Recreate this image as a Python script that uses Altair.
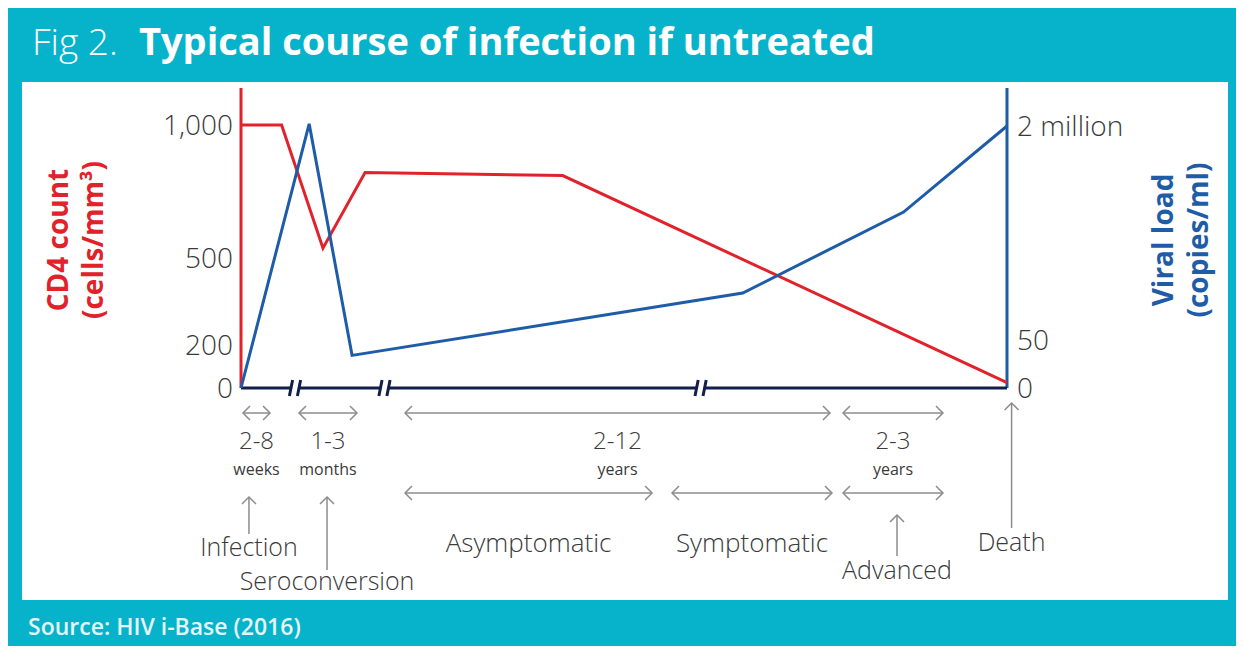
import altair as alt
import pandas as pd

# ---------------- data (schematic time units: infection = 0, death = 100) -------------
red_t = [0, 5.3, 10.7, 16.2, 42.0, 100]
red_cd4 = [1000, 1000, 537, 821, 810, 25]
blue_t = [0, 8.9, 14.5, 65.5, 86.5, 100]
blue_vl = [0, 2020000, 34, 439000, 1196000, 2000000]

cd4_ticks = [0, 200, 500, 1000]
cd4_labels = ["0", "200", "500", "1,000"]
vl_ticks = [0, 50, 2000000]
vl_labels = ["0", "50", "2 million"]

axis_breaks = [7.05, 18.73, 60.0]

dur_num = ["2-8", "1-3", "2-12", "2-3"]
dur_unit = ["weeks", "months", "years", "years"]
dur_start = [0.26, 7.57, 21.41, 78.59]
dur_end = [3.79, 15.14, 76.89, 91.64]

stage_names = ["Asymptomatic", "Symptomatic", "Advanced"]
stage_start = [21.41, 56.27, 78.59]
stage_end = [53.66, 77.15, 91.64]

event_names = ["Infection", "Seroconversion", "Advanced", "Death"]
event_t = [1.04, 11.23, 85.64, 100.6]

# ---------------- layout / style ----------------
W, H = 1206, 518
PX_PER_U = 7.66
U0 = 219
BASE_Y = 306
TEAL = "#06b3cb"
RED = "#e1222b"
BLUE = "#1f5ca8"
NAVY = "#121f4b"
GREY = "#8c8c8c"
TXT = "#3a3a3a"
FONT = "Open Sans"
CHEVRON = "M-1,-1L0,0L-1,1"

# event arrow layout: (top, bottom, label y) in view pixels
EVENT_LAYOUT = {
    "Infection": (415, 452, 466),
    "Seroconversion": (415, 488, 500),
    "Advanced": (433, 474, 489),
    "Death": (321, 446, 461),
}

xs = alt.Scale(domain=[-U0 / PX_PER_U, (W - U0) / PX_PER_U], nice=False, zero=False)
cd4_scale = alt.Scale(domain=cd4_ticks, range=[306, 263, 176, 43], nice=False, zero=False)
vl_scale = alt.Scale(domain=vl_ticks, range=[306, 258, 44], nice=False, zero=False)


def X(field="t"):
    return alt.X(f"{field}:Q", scale=xs, axis=None)


layers = []

# axis lines
layers.append(
    alt.Chart(pd.DataFrame({"t": [0]})).mark_rule(color=RED, strokeWidth=3)
    .encode(x=X(), y=alt.value(6), y2=alt.value(BASE_Y))
)
layers.append(
    alt.Chart(pd.DataFrame({"t": [100]})).mark_rule(color=BLUE, strokeWidth=3)
    .encode(x=X(), y=alt.value(6), y2=alt.value(BASE_Y))
)

# baseline with breaks
gap = 4 / PX_PER_U
edges = [0]
for b in axis_breaks:
    edges += [b - gap, b + gap]
edges.append(100)
seg_df = pd.DataFrame({"t": edges[0::2], "t2": edges[1::2]})
layers.append(
    alt.Chart(seg_df).mark_rule(color=NAVY, strokeWidth=3)
    .encode(x=X(), x2="t2:Q", y=alt.value(BASE_Y))
)
slant = 1.6 / PX_PER_U
bars = []
for b in axis_breaks:
    for c in (b - gap, b + gap):
        bars.append((c - slant, c + slant))
bar_df = pd.DataFrame({"t": [a for a, _ in bars], "t2": [c for _, c in bars]})
layers.append(
    alt.Chart(bar_df).mark_rule(color=NAVY, strokeWidth=3)
    .encode(x=X(), x2="t2:Q", y=alt.value(BASE_Y + 8), y2=alt.value(BASE_Y - 8))
)

# data lines
layers.append(
    alt.Chart(pd.DataFrame({"t": red_t, "v": red_cd4})).mark_line(color=RED, strokeWidth=3)
    .encode(x=X(), y=alt.Y("v:Q", scale=cd4_scale, axis=None))
)
layers.append(
    alt.Chart(pd.DataFrame({"t": blue_t, "v": blue_vl})).mark_line(color=BLUE, strokeWidth=3)
    .encode(x=X(), y=alt.Y("v:Q", scale=vl_scale, axis=None))
)

# tick labels
layers.append(
    alt.Chart(pd.DataFrame({"t": [0] * 4, "v": cd4_ticks, "lab": cd4_labels}))
    .mark_text(align="right", baseline="middle", dx=-8, dy=2, fontSize=28, font=FONT,
               fontWeight=300, color=TXT)
    .encode(x=X(), y=alt.Y("v:Q", scale=cd4_scale, axis=None), text="lab:N")
)
layers.append(
    alt.Chart(pd.DataFrame({"t": [100] * 3, "v": vl_ticks, "lab": vl_labels}))
    .mark_text(align="left", baseline="middle", dx=10, dy=2, fontSize=28, font=FONT,
               fontWeight=300, color=TXT)
    .encode(x=X(), y=alt.Y("v:Q", scale=vl_scale, axis=None), text="lab:N")
)

# axis titles
for txt, px, col in [("CD4 count", 38, RED), ("(cells/mm³)", 73, RED),
                     ("Viral load", 1143, BLUE), ("(copies/ml)", 1178, BLUE)]:
    layers.append(
        alt.Chart(pd.DataFrame({"s": [txt]}))
        .mark_text(angle=270, align="center", baseline="middle", fontSize=28,
                   fontWeight="bold", font=FONT, color=col)
        .encode(x=alt.value(px), y=alt.value(158), text="s:N")
    )


def double_arrows(starts, ends, ypix):
    df = pd.DataFrame({"t": starts, "t2": ends})
    out = [
        alt.Chart(df).mark_rule(color=GREY, strokeWidth=1.5)
        .encode(x=X(), x2="t2:Q", y=alt.value(ypix)),
        alt.Chart(df).mark_point(shape=CHEVRON, size=196, filled=False, color=GREY,
                                 strokeWidth=1.5, opacity=1, angle=180)
        .encode(x=X(), y=alt.value(ypix)),
        alt.Chart(df).mark_point(shape=CHEVRON, size=196, filled=False, color=GREY,
                                 strokeWidth=1.5, opacity=1)
        .encode(x=X("t2"), y=alt.value(ypix)),
    ]
    return out


# durations row
layers += double_arrows(dur_start, dur_end, 331)
dur_df = pd.DataFrame({"t": [(a + b) / 2 for a, b in zip(dur_start, dur_end)],
                       "num": dur_num, "unit": dur_unit})
layers.append(
    alt.Chart(dur_df).mark_text(fontSize=24, font=FONT, fontWeight=300, color=TXT, baseline="middle")
    .encode(x=X(), y=alt.value(360), text="num:N")
)
layers.append(
    alt.Chart(dur_df).mark_text(fontSize=16, font=FONT, color=TXT, baseline="middle")
    .encode(x=X(), y=alt.value(388), text="unit:N")
)

# stages row
layers += double_arrows(stage_start, stage_end, 411)
stg_df = pd.DataFrame({"t": [(a + b) / 2 for a, b in zip(stage_start, stage_end)],
                       "name": stage_names})
stg_df = stg_df[~stg_df["name"].isin(event_names)]
layers.append(
    alt.Chart(stg_df).mark_text(fontSize=26, font=FONT, fontWeight=300, color=TXT, baseline="middle")
    .encode(x=X(), y=alt.value(462), text="name:N")
)

# events (up arrows)
for name, t in zip(event_names, event_t):
    top, bot, ly = EVENT_LAYOUT[name]
    df = pd.DataFrame({"t": [t], "name": [name]})
    layers.append(
        alt.Chart(df).mark_rule(color=GREY, strokeWidth=1.5)
        .encode(x=X(), y=alt.value(top), y2=alt.value(bot))
    )
    layers.append(
        alt.Chart(df).mark_point(shape=CHEVRON, size=196, filled=False, color=GREY,
                                 strokeWidth=1.5, opacity=1, angle=270)
        .encode(x=X(), y=alt.value(top))
    )
    layers.append(
        alt.Chart(df).mark_text(fontSize=25, font=FONT, fontWeight=300, color=TXT, baseline="middle")
        .encode(x=X(), y=alt.value(ly), text="name:N")
    )

# title and source
layers.append(
    alt.Chart(pd.DataFrame({"s": ["Fig 2."]}))
    .mark_text(align="left", baseline="middle", fontSize=37, font=FONT, fontWeight=300, color="white")
    .encode(x=alt.value(10), y=alt.value(-38), text="s:N")
)
layers.append(
    alt.Chart(pd.DataFrame({"s": ["Typical course of infection if untreated"]}))
    .mark_text(align="left", baseline="middle", fontSize=38, font=FONT, fontWeight="bold", color="white")
    .encode(x=alt.value(117), y=alt.value(-38), text="s:N")
)
layers.append(
    alt.Chart(pd.DataFrame({"s": ["Source: HIV i-Base (2016)"]}))
    .mark_text(align="left", baseline="middle", fontSize=23, font=FONT, fontWeight=600, color="#e4f6f9")
    .encode(x=alt.value(6), y=alt.value(546), text="s:N")
)

chart = (
    alt.layer(*layers)
    .resolve_scale(y="independent")
    .properties(width=W, height=H,
                padding={"left": 14, "top": 74, "right": 8, "bottom": 46},
                autosize=alt.AutoSizeParams(type="none"))
    .configure(background=TEAL)
    .configure_view(fill="white", stroke=None)
)

chart.save("out.html", embed_options={"renderer": "svg", "actions": False})
